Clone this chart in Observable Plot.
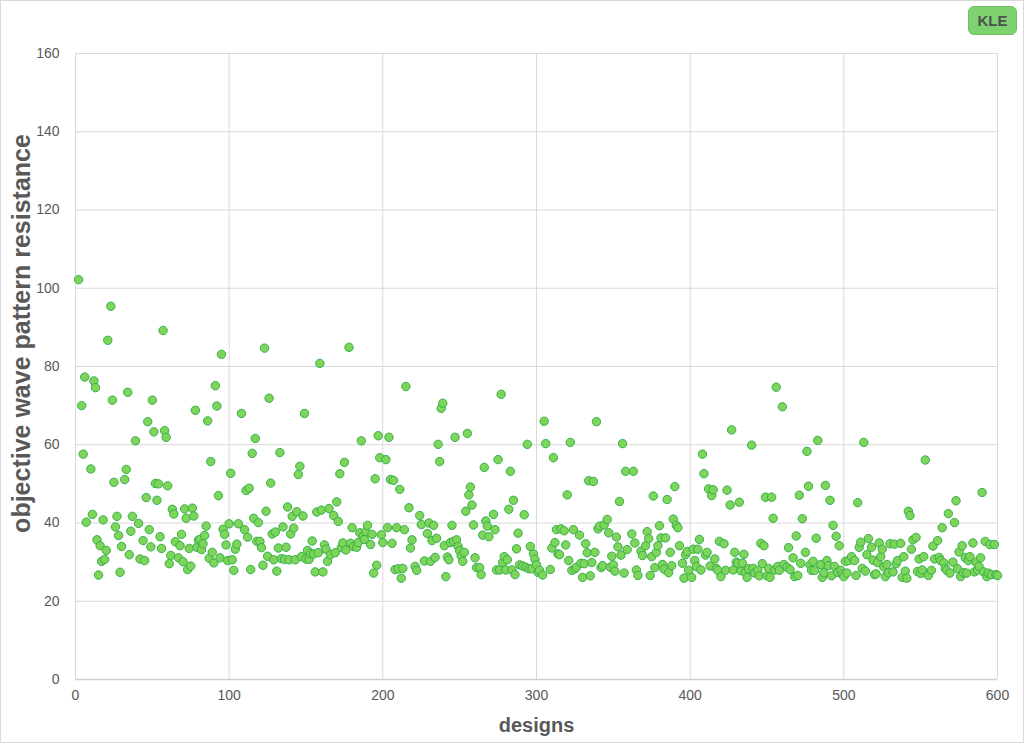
<!DOCTYPE html>
<html>
<head>
<meta charset="utf-8">
<script src="https://cdn.jsdelivr.net/npm/d3@7"></script>
<script src="https://cdn.jsdelivr.net/npm/@observablehq/plot@0.6"></script>
<style>
  html, body { margin: 0; padding: 0; background: #fff; }
  #wrap { position: relative; width: 1024px; height: 743px; overflow: hidden; }
  #border { position: absolute; left: 0; top: 0; width: 1024px; height: 743px; box-sizing: border-box; border: 1px solid #d9d9d9; pointer-events: none; }
  #legend { position: absolute; left: 968px; top: 6px; width: 49px; height: 29px; box-sizing: border-box;
    background: #7fd270; border: 1px solid #6cc25e; border-radius: 6px;
    font: bold 15px "Liberation Sans", Arial, sans-serif; color: #505050;
    display: flex; align-items: center; justify-content: center; }
</style>
</head>
<body>
<div id="wrap"><div id="chart"></div><div id="legend">KLE</div><div id="border"></div></div>
<script>
const seriesName = "KLE";
const xLabel = "designs";
const yLabel = "objective wave pattern resistance";
const xTicks = [0, 100, 200, 300, 400, 500, 600];
const yTicks = [0, 20, 40, 60, 80, 100, 120, 140, 160];

const designs = [
2,4,5,6,7,10,11,12,13,14,15,16,17,18,19,20,21,23,24,25,26,27,28,29,30,32,33,34,35,36,37,39,41,42,44,45,46,47,48,49,
50,51,52,53,54,55,56,57,58,59,60,61,62,63,64,65,67,68,69,70,71,72,73,74,75,76,77,78,79,80,81,82,83,84,85,86,87,88,89,90,
91,92,93,94,95,96,97,98,99,
100,101,102,103,104,105,106,108,110,111,112,113,114,115,116,117,118,119,120,121,122,123,124,125,126,127,128,129,130,131,
132,133,134,135,136,137,138,139,140,141,142,143,144,145,146,147,148,149,150,151,152,153,154,155,156,157,158,159,160,161,
162,163,164,165,166,168,169,170,171,172,173,174,175,176,178,179,180,181,183,184,185,186,187,188,189,190,192,193,194,195,
196,197,198,199,200,
202,203,204,205,206,207,208,209,210,211,212,213,214,215,217,218,219,221,222,224,225,227,229,230,231,232,233,234,235,236,
237,238,239,240,241,242,243,244,245,246,247,248,249,250,251,252,253,254,255,256,257,258,259,260,261,263,264,265,266,267,
268,269,272,273,274,275,276,277,278,279,280,281,282,283,284,285,286,287,288,289,291,292,293,294,295,296,297,298,299,300,
301,302,
304,305,306,309,310,311,312,313,314,315,316,318,319,320,321,322,323,324,325,326,328,329,330,331,332,333,334,335,336,337,
338,339,340,341,342,343,344,346,347,348,349,350,351,352,353,354,355,356,357,358,359,362,363,364,365,366,368,369,371,372,
373,374,375,376,377,378,379,380,381,382,383,384,385,386,387,388,389,390,391,392,393,395,396,397,398,399,
401,402,403,404,405,406,407,408,409,410,411,412,413,414,415,416,417,418,419,420,422,423,424,426,427,428,429,430,431,432,
433,434,435,436,437,438,440,441,442,444,445,446,447,448,449,450,451,452,453,454,455,456,457,458,460,461,463,464,465,467,
468,469,470,471,472,473,475,476,477,478,479,480,481,482,483,485,486,487,488,489,490,491,492,493,494,495,496,497,498,499,
500,
501,502,503,505,507,508,509,510,511,512,513,514,515,516,518,519,520,521,522,523,524,525,526,527,528,529,530,532,533,534,
535,537,538,539,540,541,542,543,544,545,547,548,549,550,551,552,553,555,557,558,559,561,562,563,564,565,566,567,568,569,
571,572,573,574,575,576,577,578,579,580,581,582,584,585,586,587,588,589,590,591,592,593,594,595,596,598,599,600
];

const resistance = [
102.2,70.0,57.6,77.3,40.2,53.8,42.2,76.3,74.6,35.7,26.7,34.2,30.2,40.8,30.7,33.0,86.7,95.4,71.4,50.4,39.0,41.7,36.8,27.4,34.0,51.1,53.7,73.4,31.9,37.9,41.7,61.0,39.9,30.8,35.5,30.4,46.5,65.9,38.3,33.9,
71.4,63.3,50.1,45.8,50.0,36.5,33.5,89.2,63.6,61.9,49.5,29.6,31.7,43.5,42.3,35.2,31.1,34.2,37.1,30.1,43.6,41.2,28.1,33.5,29.0,43.8,41.8,68.8,33.8,35.6,35.8,33.2,34.7,36.8,39.2,66.1,31.0,55.7,32.5,29.8,
75.1,69.9,47.0,31.1,83.1,38.4,37.1,34.4,30.4,
39.8,52.7,30.6,27.9,33.3,34.6,39.8,68.0,38.3,48.3,36.4,48.9,28.1,57.8,41.2,61.6,35.3,40.1,35.3,33.7,29.2,84.7,43.0,31.5,71.9,50.2,37.2,30.6,37.7,27.7,
33.6,58.0,30.9,39.0,30.7,33.8,44.1,30.6,37.2,41.7,38.7,30.6,42.9,52.4,54.5,31.4,41.8,68.0,30.8,33.0,30.7,32.2,35.4,32.1,27.5,42.8,32.4,80.8,43.3,27.5,
34.4,33.3,30.2,43.7,31.9,41.9,32.4,45.4,40.4,52.6,33.7,34.9,55.5,33.1,84.9,34.8,38.8,34.0,33.8,35.0,37.5,61.0,36.5,35.8,37.8,39.4,34.5,37.1,27.2,51.3,
29.2,62.3,56.7,37.0,35.0,
56.2,38.8,61.9,51.1,34.8,50.9,28.1,38.8,28.3,48.6,25.9,28.4,38.3,74.9,43.9,33.6,35.7,28.9,27.9,41.9,39.6,30.3,37.3,40.0,30.2,35.5,39.4,31.2,36.1,60.1,
55.7,69.3,70.6,34.2,26.3,31.3,30.6,35.0,39.4,35.3,61.9,35.7,34.0,32.9,31.6,30.2,32.5,43.0,62.9,47.2,49.2,44.6,39.5,31.1,28.6,28.6,26.8,36.9,54.2,40.5,
39.2,36.5,42.2,38.3,28.0,56.2,28.0,72.9,29.9,31.4,28.0,30.6,43.5,53.2,28.0,45.8,26.8,33.4,37.4,29.3,29.0,42.1,28.7,60.1,28.3,34.0,28.3,32.1,30.7,29.3,
27.4,27.9,
26.7,66.0,60.3,28.1,33.6,56.7,35.0,38.3,32.1,31.9,38.5,38.0,34.4,47.2,30.4,60.6,27.9,38.3,28.3,28.7,36.9,29.7,26.1,29.6,34.7,32.4,50.8,26.5,29.9,50.6,
32.5,65.9,38.5,39.2,28.6,29.1,39.5,40.9,37.5,28.7,31.5,29.3,27.7,36.4,33.9,45.5,31.8,60.3,27.2,53.2,33.2,37.2,53.2,34.9,28.0,26.6,32.8,31.7,34.2,37.8,
36.0,26.6,31.4,46.9,28.6,32.5,34.2,39.3,36.2,29.4,28.2,36.2,46.0,27.3,32.5,29.1,41.0,49.3,39.4,38.8,34.2,29.7,25.9,31.9,32.7,27.9,
26.1,33.3,30.4,28.9,33.3,35.8,28.0,57.6,52.6,31.8,32.5,48.7,29.0,47.0,48.5,30.8,28.4,27.9,35.3,26.3,34.7,27.9,48.4,44.6,63.8,28.0,32.5,30.0,29.7,45.3,
27.8,29.7,32.0,27.4,26.1,28.3,59.9,28.4,27.2,27.9,26.5,34.8,29.6,34.2,46.6,26.5,28.4,26.1,46.6,41.2,28.0,74.7,28.9,27.9,69.7,29.4,28.7,33.7,28.1,31.1,
26.3,36.7,26.6,47.1,29.7,41.1,32.5,58.3,49.4,29.3,27.9,30.2,27.9,36.1,61.1,29.4,26.1,27.3,49.6,30.4,29.1,45.8,26.5,39.4,28.9,36.6,27.4,34.2,27.9,26.9,
26.3,
30.2,27.2,30.4,31.4,30.4,26.6,45.2,33.8,35.1,28.4,60.6,27.7,31.9,36.0,33.8,30.5,26.8,27.0,29.9,34.9,31.4,33.3,28.8,26.3,29.4,27.3,34.7,27.5,34.6,29.6,
30.4,34.8,26.1,31.4,27.7,25.9,43.0,41.9,33.3,35.7,36.3,27.6,30.8,27.1,28.0,31.4,56.1,26.6,27.9,34.1,30.8,35.5,31.2,30.4,38.8,29.8,28.4,27.9,42.4,27.2,
30.0,40.1,45.7,28.3,32.6,26.3,34.2,27.3,31.1,27.2,30.4,31.4,34.9,27.5,30.0,28.0,28.9,31.1,47.8,27.5,35.3,26.3,27.2,34.5,26.8,34.5,26.8,26.6
];

const n = Math.min(designs.length, resistance.length);
const points = d3.range(n).map(i => ({design: designs[i], value: resistance[i], series: seriesName}));

const gray = "#595959";
const gridColor = "#d9d9d9";
const font = "'Liberation Sans', Arial, sans-serif";

const chart = Plot.plot({
  width: 1024,
  height: 743,
  marginLeft: 75,
  marginRight: 27,
  marginTop: 53,
  marginBottom: 64,
  style: {fontFamily: font, color: gray, background: "transparent", overflow: "visible"},
  x: {domain: [0, 600], ticks: xTicks},
  y: {domain: [0, 160], ticks: yTicks},
  marks: [
    Plot.gridX(xTicks, {stroke: gridColor, strokeOpacity: 1, strokeWidth: 1}),
    Plot.gridY(yTicks, {stroke: gridColor, strokeOpacity: 1, strokeWidth: 1}),
    Plot.ruleY([0], {stroke: "#cfcfcf", strokeWidth: 1.5}),
    Plot.axisX(xTicks, {tickSize: 0, tickPadding: 11, fontSize: 14, fill: gray, label: null}),
    Plot.axisY(yTicks, {tickSize: 0, tickPadding: 16, fontSize: 14, fill: gray, label: null}),
    Plot.dot(points, {x: "design", y: "value", r: 4.2, fill: "#7fd45a", stroke: "#33b14a", strokeWidth: 1}),
    Plot.text([yLabel], {frameAnchor: "left", textAnchor: "middle", rotate: -90, dx: -54, dy: -33, fontSize: 25, fontWeight: "bold", fill: gray, lineAnchor: "middle"}),
    Plot.text([xLabel], {frameAnchor: "bottom", textAnchor: "middle", dy: 46, fontSize: 20, fontWeight: "bold", fill: gray, lineAnchor: "middle"})
  ]
});
document.getElementById("chart").appendChild(chart);
</script>
</body>
</html>
